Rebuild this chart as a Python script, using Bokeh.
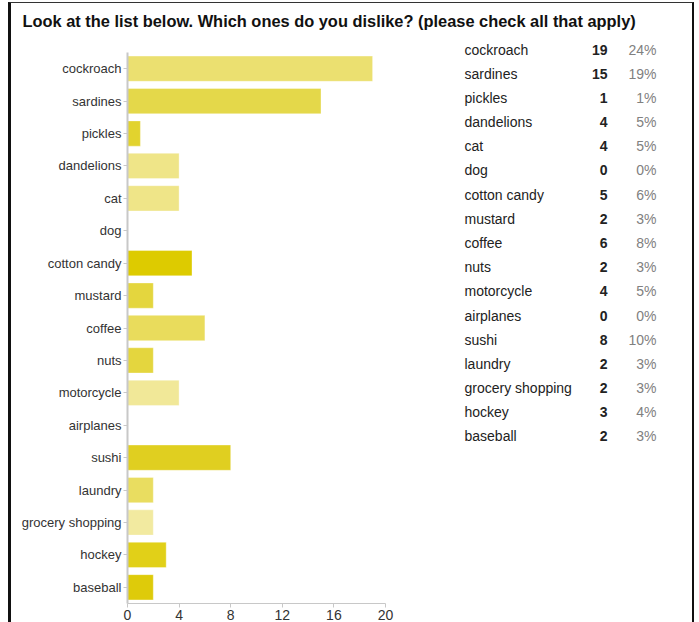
from bokeh.plotting import figure
from bokeh.layouts import column, row
from bokeh.models import ColumnDataSource, FactorRange, Range1d, FixedTicker
from bokeh.embed import file_html
from bokeh.resources import INLINE
from bokeh.core.properties import value

title_text = "Look at the list below. Which ones do you dislike? (please check all that apply)"
categories = ["cockroach", "sardines", "pickles", "dandelions", "cat", "dog",
              "cotton candy", "mustard", "coffee", "nuts", "motorcycle",
              "airplanes", "sushi", "laundry", "grocery shopping", "hockey",
              "baseball"]
counts = [19, 15, 1, 4, 4, 0, 5, 2, 6, 2, 4, 0, 8, 2, 2, 3, 2]
percents = [24, 19, 1, 5, 5, 0, 6, 3, 8, 3, 5, 0, 10, 3, 3, 4, 3]
x_ticks = [0, 4, 8, 12, 16, 20]

bar_colors = ["#EBE070", "#E4D84A", "#E2D32E", "#EFE588", "#EFE588", "#E8DC60",
              "#DDCB00", "#E4D63E", "#E9DC5C", "#E4D63E", "#F1E898", "#E8DC60",
              "#E0CF20", "#E9DD60", "#F2EAA0", "#E1D018", "#DECB0A"]

FONT = "Liberation Sans"
BAR_W, TAB_W = 429, 252
ROW_H = 586
TITLE_H = 33

# ---- title strip ----
tp = figure(width=BAR_W + TAB_W, height=TITLE_H, x_range=Range1d(0, BAR_W + TAB_W),
            y_range=Range1d(0, TITLE_H), output_backend="svg", toolbar_location=None,
            x_axis_location=None, y_axis_location=None, min_border=0)
tp.grid.visible = False
tp.outline_line_color = None
tp.text(x=[11], y=[TITLE_H - 17], text=[title_text], text_font=value(FONT),
        text_font_size="16.4px", text_font_style="bold", text_baseline="middle",
        text_color="#111111")

# ---- bar chart ----
src = ColumnDataSource(dict(cat=categories, count=counts, color=bar_colors))
bp = figure(width=BAR_W, height=ROW_H, y_range=FactorRange(factors=categories[::-1]),
            x_range=Range1d(0, 20), output_backend="svg", toolbar_location=None,
            min_border_left=116, min_border_right=BAR_W - 116 - 258,
            min_border_top=16, min_border_bottom=19, frame_align=False)
bp.hbar(y="cat", left=0, right="count", height=0.78, fill_color="color",
        line_color="#ffffff", line_alpha=0.35, line_width=1, source=src)
bp.grid.visible = False
bp.outline_line_color = None
bp.xaxis.ticker = FixedTicker(ticks=x_ticks)
bp.xaxis.minor_tick_line_color = None
for ax in (bp.xaxis, bp.yaxis):
    ax.axis_line_color = "#c8c8c8"
    ax.major_tick_line_color = "#c8c8c8"
    ax.major_tick_in = 0
    ax.major_label_text_font = FONT
    ax.major_label_text_color = "#333333"
bp.yaxis.axis_line_width = 2
bp.yaxis.major_tick_out = 4
bp.yaxis.major_label_standoff = 2
bp.yaxis.major_label_text_font_size = "13px"
bp.xaxis.major_tick_out = 4
bp.xaxis.major_label_standoff = 2
bp.xaxis.major_label_text_font_size = "14px"

# ---- table ----
tsrc = ColumnDataSource(dict(cat=categories,
                             cnt=[str(c) for c in counts],
                             pct=[f"{p}%" for p in percents]))
tab = figure(width=TAB_W, height=ROW_H, y_range=FactorRange(factors=categories[::-1]),
             x_range=Range1d(0, TAB_W), output_backend="svg", toolbar_location=None,
             x_axis_location=None, y_axis_location=None,
             min_border_left=0, min_border_right=0, min_border_top=1,
             min_border_bottom=ROW_H - 1 - 411, frame_align=False)
tab.grid.visible = False
tab.outline_line_color = None
tab.text(x=24, y="cat", text="cat", source=tsrc, text_font=value(FONT),
         text_font_size="14px", text_baseline="middle", text_align="left",
         text_color="#222222")
tab.text(x=167, y="cat", text="cnt", source=tsrc, text_font=value(FONT),
         text_font_size="14px", text_font_style="bold", text_baseline="middle",
         text_align="right", text_color="#222222")
tab.text(x=216, y="cat", text="pct", source=tsrc, text_font=value(FONT),
         text_font_size="14px", text_baseline="middle", text_align="right",
         text_color="#808080")

layout = column(tp, row(bp, tab),
                styles={"border-left": "3px solid #111111",
                        "border-right": "2px solid #111111",
                        "border-top": "1px solid #333333",
                        "margin-left": "8px",
                        "margin-top": "2px"})

open("out.html", "w").write(file_html(layout, INLINE))
